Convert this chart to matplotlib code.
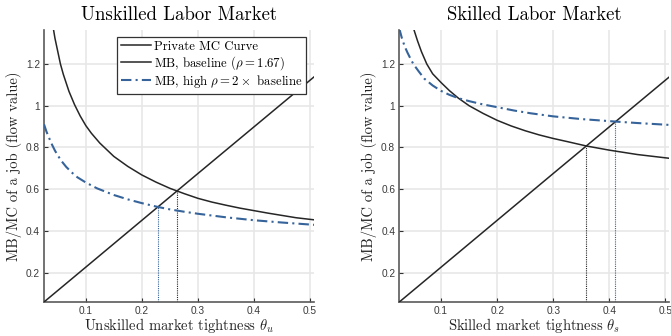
import matplotlib
matplotlib.use("Agg")
import matplotlib.pyplot as plt

plt.rcParams['mathtext.fontset'] = 'cm'
plt.rcParams['axes.formatter.use_mathtext'] = True

# ---------------- data ----------------
x_limits = (0.0255, 0.507)
y_limits = (0.059, 1.363)
x_ticks = [0.1, 0.2, 0.3, 0.4, 0.5]
x_tick_labels = ['0.1', '0.2', '0.3', '0.4', '0.5']
y_ticks = [0.2, 0.4, 0.6, 0.8, 1.0, 1.2]
y_tick_labels = ['0.2', '0.4', '0.6', '0.8', '1', '1.2']

# Private MC curve (same in both markets)
mc_theta = [0.0255, 0.1, 0.3, 0.507]
mc_vals = [0.059, 0.226, 0.675, 1.138]

# Unskilled market
u_base_theta = [0.040, 0.045, 0.0548, 0.06, 0.07, 0.08, 0.09, 0.1, 0.11, 0.125, 0.15, 0.175, 0.2,
                0.225, 0.25, 0.275, 0.3, 0.325, 0.35, 0.375, 0.4, 0.425, 0.45, 0.475, 0.507]
u_base_vals = [1.405, 1.324, 1.20, 1.150, 1.069, 1.005, 0.951, 0.905, 0.868, 0.821, 0.757, 0.709, 0.668,
               0.634, 0.604, 0.579, 0.556, 0.538, 0.523, 0.509, 0.497, 0.485, 0.474, 0.463, 0.453]
u_high_theta = [0.0255, 0.03, 0.035, 0.04, 0.045, 0.05, 0.0566, 0.065, 0.075, 0.085, 0.1, 0.12, 0.15,
                0.175, 0.2, 0.228, 0.25, 0.275, 0.3, 0.35, 0.4, 0.45, 0.507]
u_high_vals = [0.911, 0.875, 0.843, 0.812, 0.785, 0.762, 0.735, 0.707, 0.680, 0.657, 0.632, 0.604, 0.572,
               0.551, 0.533, 0.515, 0.503, 0.492, 0.482, 0.465, 0.451, 0.440, 0.429]
u_eq_theta = [0.263, 0.228]      # baseline, high
u_eq_vals = [0.593, 0.514]

# Skilled market
s_base_theta = [0.052, 0.058, 0.065, 0.0745, 0.085, 0.1, 0.115, 0.131, 0.15, 0.175, 0.2, 0.225, 0.25,
                0.275, 0.3, 0.325, 0.359, 0.4, 0.45, 0.507]
s_base_vals = [1.361, 1.311, 1.259, 1.20, 1.153, 1.111, 1.072, 1.036, 1.000, 0.963, 0.930, 0.903, 0.880,
               0.860, 0.843, 0.828, 0.807, 0.787, 0.766, 0.748]
s_high_theta = [0.0255, 0.03, 0.035, 0.04, 0.045, 0.0505, 0.06, 0.07, 0.085, 0.1, 0.115, 0.131, 0.15,
                0.175, 0.2, 0.23, 0.259, 0.3, 0.35, 0.411, 0.45, 0.507]
s_high_vals = [1.37, 1.325, 1.285, 1.255, 1.228, 1.20, 1.165, 1.130, 1.097, 1.071, 1.052, 1.036, 1.022,
               1.006, 0.993, 0.977, 0.964, 0.949, 0.936, 0.924, 0.917, 0.908]
s_eq_theta = [0.359, 0.411]
s_eq_vals = [0.806, 0.924]

titles = ['Unskilled Labor Market', 'Skilled Labor Market']
xlabels = [r'Unskilled market tightness $\theta_u$', r'Skilled market tightness $\theta_s$']
ylabel = 'MB/MC of a job (flow value)'
legend_labels = ['Private MC Curve', r'MB, baseline ($\rho = 1.67$)', r'MB, high $\rho = 2\times$ baseline']

# ---------------- styling ----------------
black = '#262626'
blue = '#36649a'
serif = 'cmr10'

fig = plt.figure(figsize=(6.71, 3.36), dpi=100)
W, H = 671, 336
ax_left = fig.add_axes([44 / W, 34 / H, 270 / W, 272 / H])
ax_right = fig.add_axes([399.3 / W, 34 / H, 270 / W, 272 / H])

panels = [
    (ax_left, u_base_theta, u_base_vals, u_high_theta, u_high_vals, u_eq_theta, u_eq_vals),
    (ax_right, s_base_theta, s_base_vals, s_high_theta, s_high_vals, s_eq_theta, s_eq_vals),
]

for i, (ax, bt, bv, ht, hv, et, ev) in enumerate(panels):
    ax.set_xlim(*x_limits)
    ax.set_ylim(*y_limits)
    ax.grid(True, color='#e6e6e6', linewidth=1.1, zorder=0)
    ax.set_axisbelow(True)
    for s in ['top', 'right']:
        ax.spines[s].set_visible(False)
    for s in ['left', 'bottom']:
        ax.spines[s].set_color('#5a5a5a')
        ax.spines[s].set_linewidth(1.2)
    ax.set_xticks(x_ticks)
    ax.set_xticklabels(x_tick_labels)
    ax.set_yticks(y_ticks)
    ax.set_yticklabels(y_tick_labels)
    ax.tick_params(direction='in', length=3, width=0.8, color='#333333',
                   labelsize=7.3, labelcolor='#3a3a3a', pad=3)
    for lab in ax.get_xticklabels() + ax.get_yticklabels():
        lab.set_fontfamily('Liberation Sans')

    l1, = ax.plot(mc_theta, mc_vals, color=black, lw=1.1, zorder=3)
    l2, = ax.plot(bt, bv, color=black, lw=1.1, zorder=3)
    l3, = ax.plot(ht, hv, color=blue, lw=1.5, ls=(0, (5, 2, 1, 2)), zorder=3)

    # vertical dotted markers at intersections
    ax.vlines(et[0], y_limits[0], ev[0], colors=black, linestyles=(0, (1, 1)), lw=0.8, zorder=2)
    ax.vlines(et[1], y_limits[0], ev[1], colors=blue, linestyles=(0, (1, 1)), lw=0.8, zorder=2)

    ax.set_title(titles[i], fontfamily=serif, fontsize=13.5, pad=7)
    ax.set_xlabel(xlabels[i], fontfamily=serif, fontsize=10.5, labelpad=0, color='#222222')
    ax.set_ylabel(ylabel, fontfamily=serif, fontsize=10.5, labelpad=3, color='#222222')

    if i == 0:
        leg = ax.legend([l1, l2, l3], legend_labels, loc='upper right',
                        bbox_to_anchor=((306 - 44) / 270, (302 - 37) / 272),
                        borderaxespad=0, handlelength=2.3, handletextpad=0.25,
                        labelspacing=0.08, borderpad=0.3, fancybox=False,
                        framealpha=1, edgecolor='#333333',
                        prop={'family': serif, 'size': 9.2})
        leg.get_frame().set_linewidth(0.9)

fig.savefig('out.png', dpi=100)
